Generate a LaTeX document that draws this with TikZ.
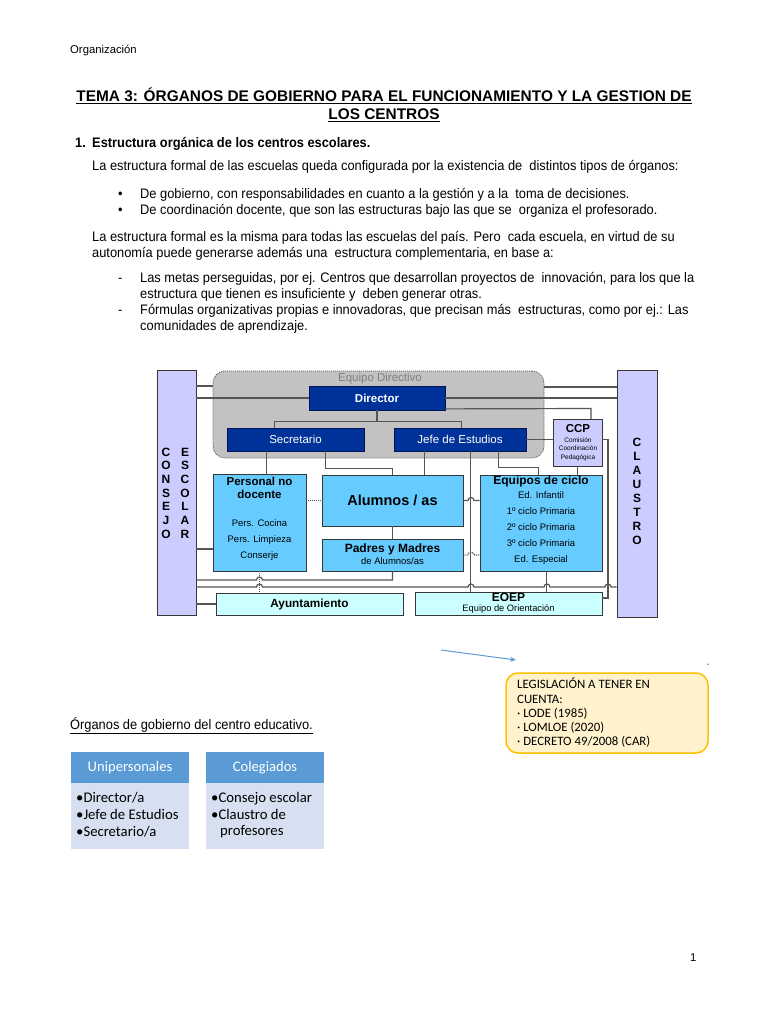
\documentclass[tikz,border=0pt]{standalone}
\usepackage{fontspec}
\setmainfont{Liberation Sans}
\newfontfamily\bodyfont[FakeStretch=0.93]{Liberation Sans}
\newfontfamily\calfont{Carlito}
\usetikzlibrary{arrows.meta,calc}
\newcommand\fsz[2]{\fontsize{#1}{#2}\selectfont}
\definecolor{dkblue}{RGB}{0,51,153}
\definecolor{dkblueb}{RGB}{0,20,80}
\definecolor{skyb}{RGB}{102,204,255}
\definecolor{cyanl}{RGB}{204,255,255}
\definecolor{lav}{RGB}{204,204,255}
\definecolor{greyreg}{RGB}{194,194,194}
\definecolor{linec}{RGB}{85,85,85}
\definecolor{boxb}{RGB}{55,55,55}
\definecolor{hdrblue}{RGB}{91,155,213}
\definecolor{bodyblue}{RGB}{214,224,241}
\definecolor{legfill}{RGB}{255,242,204}
\definecolor{legbord}{RGB}{255,192,0}
\begin{document}
\begin{tikzpicture}[x=1pt,y=-1pt,
  txt/.style={anchor=base west,inner sep=0pt,font=\bodyfont\fsz{13.8}{16}},
  ln/.style={draw=linec,line width=1.2pt},
  dotl/.style={draw=linec,line width=1.2pt,dash pattern=on 1pt off 1pt},
  dkbox/.style={draw=dkblueb,fill=dkblue,text=white,line width=0.8pt,inner sep=0pt},
  skybox/.style={draw=boxb,fill=skyb,line width=0.8pt,inner sep=0pt},
  cybox/.style={draw=boxb,fill=cyanl,line width=0.8pt,inner sep=0pt},
  lavbox/.style={draw=boxb,fill=lav,line width=0.8pt,inner sep=0pt},
  lbl/.style={inner sep=0pt,anchor=center},
  hdr/.style={fill=hdrblue,text=white,inner sep=0pt,font=\calfont\fsz{14.6}{16}},
  bdy/.style={fill=bodyblue,inner sep=0pt},
  btxt/.style={anchor=base west,inner sep=0pt,font=\calfont\fsz{14.7}{17}},
  ltxt/.style={anchor=base west,inner sep=0pt,font=\calfont\fsz{12.8}{14}}
]
\useasboundingbox (0,0) rectangle (768,1024);
\fill[white] (0,0) rectangle (768,1024);

% ---------- header text ----------
\node[anchor=base west,inner sep=0pt,font=\fsz{11.3}{13}] (hdrtxt) at (70,53.5) {Organización};
\node[anchor=base,inner sep=0pt,font=\bfseries\fsz{15.4}{17}] (title1) at (384,101.5) {\underline{TEMA 3: ÓRGANOS DE GOBIERNO PARA EL FUNCIONAMIENTO Y LA GESTION DE}};
\node[anchor=base,inner sep=0pt,font=\bfseries\fsz{15.4}{17}] (title2) at (384,119.5) {\underline{LOS CENTROS}};
\node[txt,font=\bodyfont\bfseries\fsz{13.8}{16}] (h1n) at (75,147.5) {1.};
\node[txt,font=\bodyfont\bfseries\fsz{13.8}{16}] (h1) at (92,147.5) {Estructura orgánica de los centros escolares.};
\node[txt] (p1) at (92,170.5) {La estructura formal de las escuelas queda configurada por la existencia de\ \ distintos tipos de órganos:};
\node[txt] (b1) at (118,198.5) {•};
\node[txt] (b1t) at (140,198.5) {De gobierno, con responsabilidades en cuanto a la gestión y a la\ \ toma de decisiones.};
\node[txt] (b2) at (118,214.5) {•};
\node[txt] (b2t) at (140,214.5) {De coordinación docente, que son las estructuras bajo las que se\ \ organiza el profesorado.};
\node[txt] (p2) at (92,241.5) {La estructura formal es la misma para todas las escuelas del país. Pero\ \ cada escuela, en virtud de su};
\node[txt] (p3) at (92,257.5) {autonomía puede generarse además una\ \ estructura complementaria, en base a:};
\node[txt] (d1) at (118,282.5) {-};
\node[txt] (d1t) at (140,282.5) {Las metas perseguidas, por ej. Centros que desarrollan proyectos de\ \ innovación, para los que la};
\node[txt] (d1u) at (140,298.5) {estructura que tienen es insuficiente y\ \ deben generar otras.};
\node[txt] (d2) at (118,314.5) {-};
\node[txt] (d2t) at (140,314.5) {Fórmulas organizativas propias e innovadoras, que precisan más\ \ estructuras, como por ej.: Las};
\node[txt] (d2u) at (140,330.5) {comunidades de aprendizaje.};

% ---------- diagram ----------
\node[draw=linec,fill=greyreg,rounded corners=12pt,dash pattern=on 1pt off 1pt,line width=0.8pt,minimum width=331pt,minimum height=87pt,inner sep=0pt] (ed) at (378.5,414.5) {};
\node[lbl,text=gray,font=\fsz{11.5}{13}] (edlbl) at (380,378.5) {Equipo Directivo};

\node[lavbox,minimum width=39pt,minimum height=245pt] (consejo) at (176.5,492.5) {};
\node[lavbox,minimum width=40pt,minimum height=247pt] (claustro) at (637,493.5) {};
\node[lbl,align=center,font=\bfseries\fsz{12}{13.7}] (cons1) at (166,493) {C\\O\\N\\S\\E\\J\\O};
\node[lbl,align=center,font=\bfseries\fsz{12}{13.7}] (cons2) at (185,493) {E\\S\\C\\O\\L\\A\\R};
\node[lbl,align=center,font=\bfseries\fsz{12}{13.9}] (claus) at (637,491.5) {C\\L\\A\\U\\S\\T\\R\\O};

\node[dkbox,minimum width=136pt,minimum height=24pt,font=\bfseries\fsz{11.5}{13}] (director) at (377,398) {Director};
\node[dkbox,minimum width=137pt,minimum height=23pt,font=\fsz{11.5}{13}] (secretario) at (295.5,439.5) {Secretario};
\node[dkbox,minimum width=132pt,minimum height=23pt,font=\fsz{11.5}{13}] (jefe) at (460,439.5) {Jefe de Estudios};
\node[lavbox,minimum width=49pt,minimum height=47pt] (ccp) at (577.5,442.5) {};
\node[skybox,minimum width=93pt,minimum height=97pt] (personal) at (259.5,522.5) {};
\node[skybox,minimum width=141pt,minimum height=51pt] (alumnos) at (392.5,500.5) {};
\node[skybox,minimum width=141pt,minimum height=32pt] (padres) at (392.5,555) {};
\node[skybox,minimum width=122pt,minimum height=96pt] (ciclo) at (541,523) {};
\node[cybox,minimum width=187pt,minimum height=22pt] (ayunt) at (309.5,604) {};
\node[cybox,minimum width=187pt,minimum height=23pt] (eoep) at (508.5,603.5) {};

% connectors
\draw[ln] (consejo.east |- 0,386) -- (ed.west |- 0,386);
\draw[ln] (consejo.east |- director.west) -- (director.west);
\draw[ln] (ed.east |- 0,387) -- (claustro.west |- 0,387);
\draw[ln] (director.east) -- (claustro.west |- director.east);
\draw[ln] ([yshift=1.5pt]director.south east) -- (591,408.5) -- (591,419) -- (ccp.north -| 591,0);
\draw[ln] (director.south) -- ++(0,11) coordinate (dj);
\draw[ln] ([xshift=48pt]secretario.north west) |- (dj) -| ([xshift=68pt]jefe.north west);
\draw[ln] ([xshift=40pt]secretario.south west) coordinate (s1) -- (s1 |- personal.north);
\draw[ln] ([xshift=99pt]secretario.south west) -- ++(0,17) -| (alumnos.north);
\draw[ln] ([xshift=31pt]jefe.south west) coordinate (j1) -- (j1 |- alumnos.north);
\draw[ln] ([xshift=105pt]jefe.south west) -- ++(0,16) -| ([xshift=59pt]ciclo.north west);
\draw[ln] ([xshift=77pt]jefe.south west) coordinate (j2) -- (j2 |- eoep.north);
\draw[ln] (jefe.east) -- (jefe.east -| ccp.west);
\draw[ln] ([xshift=25pt]ccp.south west) coordinate (c0) -- (c0 |- ciclo.north);
\draw[ln] (ccp.east |- jefe.east) -- (608,439.5) -- (608,598) -- ([yshift=5.5pt]eoep.east);
\draw[dotl] (alumnos.west -| personal.east) -- (alumnos.west);
\draw[ln] (alumnos.east) -- (468,500.5) arc[start angle=180,end angle=360,radius=3] -- (alumnos.east -| ciclo.west);
\draw[dotl] (padres.east) -- (468,555) arc[start angle=180,end angle=360,radius=3] -- (padres.east -| ciclo.west);
\draw[ln] (alumnos.south) -- (padres.north);
\draw[ln] (consejo.east |- 0,580) -- (256.5,580) arc[start angle=180,end angle=360,radius=3] -- (padres.south |- 0,580) -- (padres.south);
\draw[ln] (consejo.east |- 0,587) -- (256.5,587) arc[start angle=180,end angle=360,radius=3]
  -- (468,587) arc[start angle=180,end angle=360,radius=3]
  -- (544,587) arc[start angle=180,end angle=360,radius=3]
  -- (605,587) arc[start angle=180,end angle=360,radius=3]
  -- (claustro.west |- 0,587);
\draw[dotl] (personal.south) -- (personal.south |- ayunt.north);
\draw[ln] ([xshift=67pt]ciclo.south west) coordinate (e0) -- (e0 |- eoep.north);
\draw[ln] (consejo.east |- 0,549) -- (personal.west |- 0,549);
\draw[ln] (consejo.east |- ayunt.west) -- (ayunt.west);

% box texts
\node[lbl,align=center,font=\bfseries\fsz{11.5}{13}] (ccpT) at (578,429) {CCP};
\node[lbl,align=center,font=\fsz{6.5}{8.5}] (ccpS) at (578,449) {Comisión\\Coordinación\\Pedagógica};
\node[lbl,align=center,font=\bfseries\fsz{11.5}{13}] (perT) at (259.5,487.5) {Personal no\\docente};
\node[lbl,align=center,font=\fsz{9.5}{16}] (perS) at (259.5,540) {Pers. Cocina\\Pers. Limpieza\\Conserje};
\node[lbl,font=\bfseries\fsz{14.5}{17}] (aluT) at (392.5,500.5) {Alumnos / as};
\node[lbl,font=\bfseries\fsz{12}{13}] (padT) at (392.5,549) {Padres y Madres};
\node[lbl,font=\fsz{9.5}{11}] (padS) at (392.5,561.5) {de Alumnos/as};
\node[lbl,font=\bfseries\fsz{12}{13}] (cicT) at (541,481) {Equipos de ciclo};
\node[lbl,align=center,font=\fsz{9.5}{16}] (cicS) at (541,528) {Ed. Infantil\\1º ciclo Primaria\\2º ciclo Primaria\\3º ciclo Primaria\\Ed. Especial};
\node[lbl,font=\bfseries\fsz{11.8}{13}] (ayT) at (309.5,604) {Ayuntamiento};
\node[lbl,font=\bfseries\fsz{12}{13}] (eoT) at (508.5,597.5) {EOEP};
\node[lbl,font=\fsz{9.3}{11}] (eoS) at (508.5,609.5) {Equipo de Orientación};

% ---------- arrow and legislation box ----------
\coordinate (arA) at (441,650);
\coordinate (arB) at (516,660);
\draw[draw=hdrblue,line width=1pt,-{Stealth[length=6pt,width=5pt]}] (arA) -- (arB);
\node[inner sep=0pt,font=\fsz{7}{8}] (tick) at (708,665) {-};
\node[draw=legbord,fill=legfill,line width=1.5pt,rounded corners=12pt,minimum width=202pt,minimum height=80pt,inner sep=0pt] (leg) at (607,713) {};
\node[ltxt] (l1) at (517,688.5) {LEGISLACIÓN A TENER EN};
\node[ltxt] (l2) at (517,703) {CUENTA:};
\node[ltxt] (l3) at (517,717) {· LODE (1985)};
\node[ltxt] (l4) at (517,731) {· LOMLOE (2020)};
\node[ltxt] (l5) at (517,745) {· DECRETO 49/2008 (CAR)};

% ---------- organos ----------
\node[txt] (org) at (70,729) {\underline{Órganos de gobierno del centro educativo.}};
\node[hdr,minimum width=118pt,minimum height=31pt] (uniH) at (130,767.5) {Unipersonales};
\node[bdy,minimum width=118pt,minimum height=66pt,anchor=north] (uniB) at (uniH.south) {};
\node[hdr,minimum width=118pt,minimum height=31pt] (colH) at (265,767.5) {Colegiados};
\node[bdy,minimum width=118pt,minimum height=66pt,anchor=north] (colB) at (colH.south) {};
\node[btxt] (u1) at (76,802) {•Director/a};
\node[btxt] (u2) at (76,819) {•Jefe de Estudios};
\node[btxt] (u3) at (76,836) {•Secretario/a};
\node[btxt] (c1) at (211,802) {•Consejo escolar};
\node[btxt] (c2) at (211,819) {•Claustro de};
\node[btxt] (c3) at (220,835) {profesores};

\node[anchor=base west,inner sep=0pt,font=\fsz{11.3}{13}] (pgno) at (690,961) {1};
\end{tikzpicture}
\end{document}
